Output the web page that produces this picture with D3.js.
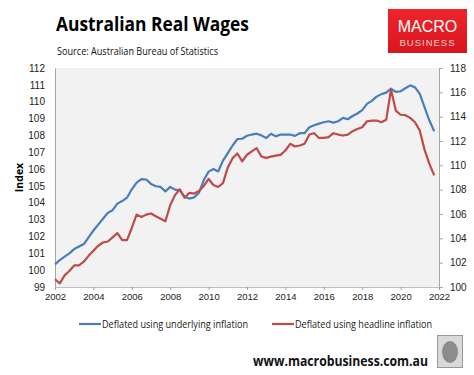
<!DOCTYPE html>
<html>
<head>
<meta charset="utf-8">
<script src="https://cdn.jsdelivr.net/npm/d3@7"></script>
<style>
  body { margin: 0; background: #fff; }
  svg { display: block; font-family: "Open Sans", "Noto Sans", sans-serif; }
</style>
</head>
<body>
<svg id="chart" width="474" height="375"></svg>
<script>
// quarterly, starting 2002
const startYear = 2002;
const underlying = [
  100.34, 100.6, 100.8, 101.0, 101.25, 101.4, 101.55, 101.95,
  102.35, 102.7, 103.05, 103.4, 103.56, 103.95, 104.1, 104.3,
  104.8, 105.2, 105.4, 105.38, 105.12, 104.98, 104.94, 104.68,
  104.94, 104.78, 104.74, 104.35, 104.25, 104.32, 104.6, 105.35,
  105.85, 106.0, 105.86, 106.5, 106.95, 107.4, 107.78, 107.8,
  107.98, 108.05, 108.1, 108.0, 107.84, 108.1, 107.94, 108.05,
  108.05, 108.05, 107.97, 108.13, 108.13, 108.48, 108.6, 108.7,
  108.78, 108.84, 108.76, 108.84, 109.04, 108.96, 109.15, 109.3,
  109.5, 109.87, 110.05, 110.3, 110.45, 110.54, 110.77, 110.58,
  110.62, 110.8, 110.97, 110.85, 110.46, 109.67, 108.88, 108.25
];
// right axis
const headline = [
  100.64, 100.30, 100.96, 101.32, 101.77, 101.77, 102.08, 102.56,
  102.98, 103.39, 103.66, 103.74, 104.08, 104.43, 103.85, 103.85,
  104.85, 105.95, 105.75, 105.95, 106.04, 105.82, 105.61, 105.40,
  106.72, 107.55, 108.03, 107.34, 107.74, 107.68, 107.89, 108.31,
  108.88, 108.38, 108.22, 108.54, 109.83, 110.59, 110.97, 110.33,
  110.87, 111.15, 111.42, 110.73, 110.61, 110.72, 110.80, 110.86,
  111.22, 111.77, 111.55, 111.63, 111.77, 112.53, 112.64, 112.25,
  112.25, 112.32, 112.64, 112.53, 112.45, 112.53, 112.81, 112.99,
  113.13, 113.62, 113.68, 113.68, 113.54, 113.74, 116.23, 114.50,
  114.16, 114.12, 113.90, 113.54, 112.85, 111.27, 110.12, 109.17
];
const xTicks = [2002, 2004, 2006, 2008, 2010, 2012, 2014, 2016, 2018, 2020, 2022];
const leftTicks = [99, 100, 101, 102, 103, 104, 105, 106, 107, 108, 109, 110, 111, 112];
const rightTicks = [100, 102, 104, 106, 108, 110, 112, 114, 116, 118];
const seriesNames = ["Deflated using underlying inflation", "Deflated using headline inflation"];

const svg = d3.select("#chart");
const pLeft = 55, pRight = 439, pTop = 68, pBottom = 287;
const blue = "#4a7ebb", red = "#be4b48";

const x = d3.scaleLinear().domain([2002, 2022]).range([pLeft, pRight]);
const yL = d3.scaleLinear().domain([99, 112]).range([pBottom, pTop]);
const yR = d3.scaleLinear().domain([100, 118]).range([pBottom, pTop]);

// squeeze text to calibri-like widths
function fit(sel, w) {
  return sel.attr("textLength", w).attr("lengthAdjust", "spacingAndGlyphs");
}

// titles
fit(svg.append("text").attr("x", 56).attr("y", 31)
  .style("font-size", "19.5px").style("font-weight", 700).style("fill", "#000")
  .text("Australian Real Wages"), 193);
fit(svg.append("text").attr("x", 57).attr("y", 55)
  .style("font-size", "10.5px").style("fill", "#111")
  .text("Source: Australian Bureau of Statistics"), 161);

// logo
const grad = svg.append("defs").append("linearGradient").attr("id", "logoGrad")
  .attr("x1", 0).attr("y1", 0).attr("x2", 0).attr("y2", 1);
grad.append("stop").attr("offset", "0%").attr("stop-color", "#f0242b");
grad.append("stop").attr("offset", "100%").attr("stop-color", "#d8161f");
svg.append("rect").attr("x", 388).attr("y", 9).attr("width", 79).attr("height", 44)
  .attr("fill", "url(#logoGrad)");
svg.append("text").attr("x", 427.5).attr("y", 32).attr("text-anchor", "middle")
  .style("font-family", "'Liberation Sans', Arial, sans-serif")
  .style("font-size", "16px").style("fill", "#fff")
  .text("MACRO");
svg.append("text").attr("x", 427.5).attr("y", 45.5).attr("text-anchor", "middle")
  .style("font-family", "'Liberation Sans', Arial, sans-serif")
  .style("font-size", "9.5px").style("letter-spacing", "1px").style("fill", "#f8d0d0")
  .text("BUSINESS");

// plot area
svg.append("rect").attr("x", pLeft).attr("y", pTop)
  .attr("width", pRight - pLeft).attr("height", pBottom - pTop).attr("fill", "#f2f2f2");

// axes
const gx = svg.append("g").attr("transform", `translate(0,${pBottom})`)
  .call(d3.axisBottom(x).tickValues(xTicks).tickFormat(d3.format("d")).tickSize(3));
gx.select(".domain").attr("stroke", "#bfbfbf");
gx.selectAll(".tick line").attr("stroke", "#a0a0a0");
gx.selectAll("text").attr("dy", "0.7em").style("font-size", "9.5px").style("fill", "#222");

const gl = svg.append("g").attr("transform", `translate(${pLeft},0)`)
  .call(d3.axisLeft(yL).tickValues(leftTicks).tickSize(0).tickPadding(10));
gl.select(".domain").attr("stroke", "#a6a6a6");
gl.selectAll("text").style("font-size", "10px").style("fill", "#222");

const gr = svg.append("g").attr("transform", `translate(${pRight},0)`)
  .call(d3.axisRight(yR).tickValues(rightTicks).tickSize(4).tickPadding(7));
gr.select(".domain").attr("stroke", "#a6a6a6");
gr.selectAll(".tick line").attr("stroke", "#a6a6a6");
gr.selectAll("text").style("font-size", "10px").style("fill", "#222");

svg.append("text")
  .attr("transform", `translate(23,${(pTop + pBottom) / 2}) rotate(-90)`)
  .attr("text-anchor", "middle")
  .style("font-size", "10.5px").style("font-weight", 700)
  .text("Index");

// lines
const qx = (d, i) => x(startYear + i / 4);
svg.append("path").datum(underlying)
  .attr("fill", "none").attr("stroke", blue).attr("stroke-width", 2.2)
  .attr("stroke-linejoin", "round")
  .attr("d", d3.line().x(qx).y(d => yL(d)));
svg.append("path").datum(headline)
  .attr("fill", "none").attr("stroke", red).attr("stroke-width", 2.2)
  .attr("stroke-linejoin", "round")
  .attr("d", d3.line().x(qx).y(d => yR(d)));

// legend
const legend = [
  { name: seriesNames[0], color: blue, x: 79, w: 146 },
  { name: seriesNames[1], color: red, x: 272, w: 137 }
];
legend.forEach(l => {
  svg.append("line").attr("x1", l.x).attr("x2", l.x + 22)
    .attr("y1", 324).attr("y2", 324)
    .attr("stroke", l.color).attr("stroke-width", 2.2);
  fit(svg.append("text").attr("x", l.x + 23).attr("y", 328)
    .style("font-size", "10.5px").style("fill", "#222")
    .text(l.name), l.w);
});

// footer
fit(svg.append("text").attr("x", 253).attr("y", 366)
  .style("font-size", "13.5px").style("font-weight", 700).style("fill", "#111")
  .text("www.macrobusiness.com.au"), 175);
svg.append("rect").attr("x", 437.5).attr("y", 335.5).attr("width", 25).attr("height", 32)
  .attr("fill", "#d9d9d9").attr("stroke", "#999");
svg.append("ellipse").attr("cx", 450).attr("cy", 352).attr("rx", 8).attr("ry", 11)
  .attr("fill", "#8c8c8c");
</script>
</body>
</html>
